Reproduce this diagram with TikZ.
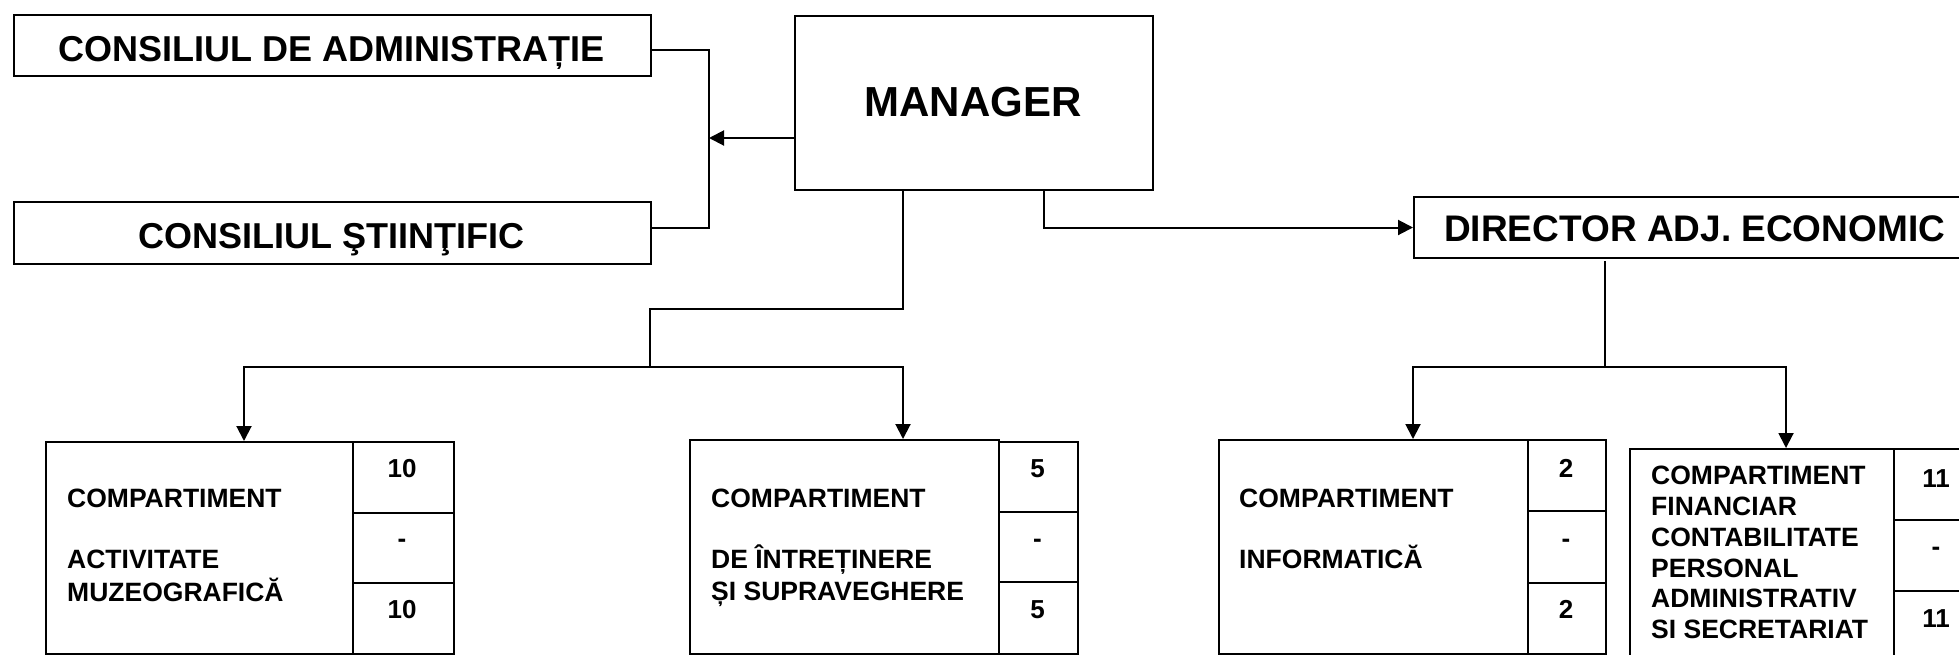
\documentclass[tikz,border=0pt]{standalone}
\usepackage{fontspec}
\setmainfont{Liberation Sans}
\usetikzlibrary{arrows.meta}
\begin{document}
\begin{tikzpicture}[x=1pt,y=-1pt,
  box/.style={draw, line width=2pt, rectangle, inner sep=0pt, anchor=north west},
  conn/.style={line width=2pt},
  arr/.style={line width=2pt, -{Triangle[length=15pt,width=15pt]}},
  hfont/.style={font=\bfseries\fontsize{36}{40}\selectfont, inner sep=0pt},
  mfont/.style={font=\bfseries\fontsize{42}{46}\selectfont, inner sep=0pt},
  dfont/.style={font=\bfseries\fontsize{37}{41}\selectfont, inner sep=0pt},
  sfont/.style={font=\bfseries\fontsize{26.5}{30}\selectfont, inner sep=0pt, anchor=base west},
  nfont/.style={font=\bfseries\fontsize{26}{30}\selectfont, inner sep=0pt, anchor=base},
]
\useasboundingbox (0,0) rectangle (1959,654);
\clip (0,0) rectangle (1959,654);

% top boxes
\node[box, minimum width=637pt, minimum height=61pt] (ca) at (13,14) {};
\node[box, minimum width=637pt, minimum height=62pt] (cs) at (13,201) {};
\node[box, minimum width=358pt, minimum height=174pt] (mgr) at (794,15) {};
\node[box, minimum width=600pt, minimum height=61pt] (dir) at (1413,196) {};

\node[hfont, anchor=base] (tca) at (331.5,61) {CONSILIUL DE ADMINISTRAȚIE};
\node[hfont, anchor=base] (tcs) at (331.5,248) {CONSILIUL ŞTIINŢIFIC};
\node[mfont, anchor=base] (tmgr) at (973,116) {MANAGER};
\node[dfont, anchor=base west] (tdir) at (1444,241) {DIRECTOR ADJ. ECONOMIC};

% bottom boxes
\node[box, minimum width=307pt, minimum height=212pt] (b1) at (45,441) {};
\node[box, minimum width=101pt, minimum height=71pt] (b1a) at (352,441) {};
\node[box, minimum width=101pt, minimum height=70pt] (b1b) at (352,512) {};
\node[box, minimum width=101pt, minimum height=71pt] (b1c) at (352,582) {};

\node[box, minimum width=309pt, minimum height=214pt] (b2) at (689,439) {};
\node[box, minimum width=79pt, minimum height=70pt] (b2a) at (998,441) {};
\node[box, minimum width=79pt, minimum height=70pt] (b2b) at (998,511) {};
\node[box, minimum width=79pt, minimum height=72pt] (b2c) at (998,581) {};

\node[box, minimum width=309pt, minimum height=214pt] (b3) at (1218,439) {};
\node[box, minimum width=78pt, minimum height=71pt] (b3a) at (1527,439) {};
\node[box, minimum width=78pt, minimum height=72pt] (b3b) at (1527,510) {};
\node[box, minimum width=78pt, minimum height=71pt] (b3c) at (1527,582) {};

\node[box, minimum width=264pt, minimum height=213pt] (b4) at (1629,448) {};
\node[box, minimum width=90pt, minimum height=71pt] (b4a) at (1893,448) {};
\node[box, minimum width=90pt, minimum height=71pt] (b4b) at (1893,519) {};
\node[box, minimum width=90pt, minimum height=71pt] (b4c) at (1893,590) {};

% texts in bottom boxes
\node[sfont] (t1a) at (67,507) {COMPARTIMENT};
\node[sfont] (t1b) at (67,568) {ACTIVITATE};
\node[sfont] (t1c) at (67,601) {MUZEOGRAFICĂ};

\node[sfont] (t2a) at (711,507) {COMPARTIMENT};
\node[sfont] (t2b) at (711,568) {DE ÎNTREȚINERE};
\node[sfont] (t2c) at (711,600) {ȘI SUPRAVEGHERE};

\node[sfont] (t3a) at (1239,507) {COMPARTIMENT};
\node[sfont] (t3b) at (1239,568) {INFORMATICĂ};

\node[sfont] (t4a) at (1651,484) {COMPARTIMENT};
\node[sfont] (t4b) at (1651,515) {FINANCIAR};
\node[sfont] (t4c) at (1651,546) {CONTABILITATE};
\node[sfont] (t4d) at (1651,577) {PERSONAL};
\node[sfont] (t4e) at (1651,607) {ADMINISTRATIV};
\node[sfont] (t4f) at (1651,638) {SI SECRETARIAT};

% numbers
\node[nfont] (n1a) at (402,477) {10};
\node[nfont] (n1b) at (402,547) {-};
\node[nfont] (n1c) at (402,618) {10};
\node[nfont] (n2a) at (1037.5,477) {5};
\node[nfont] (n2b) at (1037.5,547) {-};
\node[nfont] (n2c) at (1037.5,618) {5};
\node[nfont] (n3a) at (1566,477) {2};
\node[nfont] (n3b) at (1566,547) {-};
\node[nfont] (n3c) at (1566,618) {2};
\node[nfont] (n4a) at (1936,487) {11};
\node[nfont] (n4b) at (1936,555) {-};
\node[nfont] (n4c) at (1936,627) {11};

% connectors
\coordinate (bus) at (709,138);
\draw[conn] ([yshift=-4.5pt]ca.east) -| (bus) |- ([yshift=5pt]cs.east);
\draw[arr] (mgr.west |- bus) -- (bus);

\draw[arr] ([xshift=70pt]mgr.south) |- (dir.west);

\coordinate (j1) at (650,309);
\coordinate (j2) at (650,367);
\draw[conn] ([xshift=-71pt]mgr.south) |- (j1) -- (j2);
\draw[arr] (j2) -| ([xshift=44.5pt]b1.north);
\draw[arr] (j2) -| ([xshift=58.5pt]b2.north);

\coordinate (j3) at (1605,367);
\draw[conn] ([yshift=-2pt]dir.south -| j3) -- (j3);
\draw[arr] (j3) -| ([xshift=39.5pt]b3.north);
\draw[arr] (j3) -| ([xshift=24pt]b4.north);
\end{tikzpicture}
\end{document}
